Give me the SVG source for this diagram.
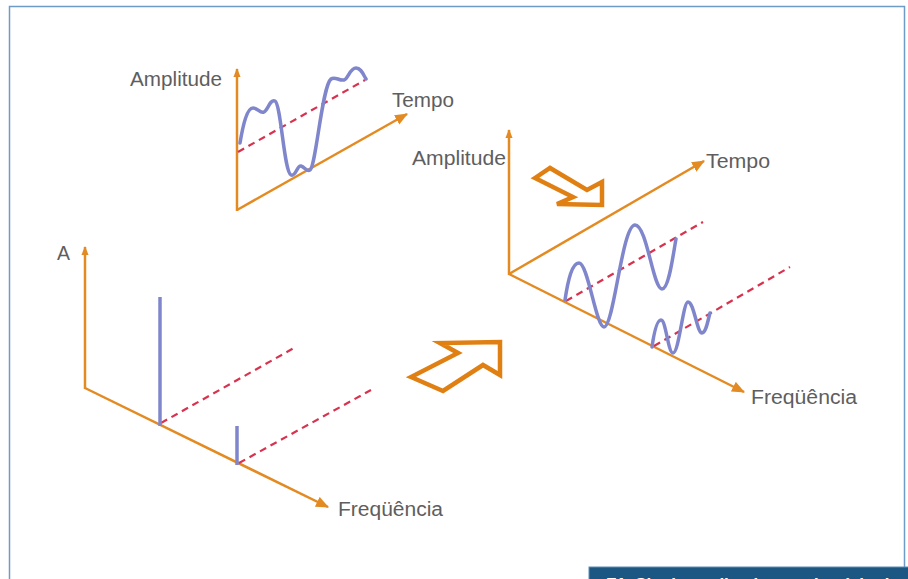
<svg xmlns="http://www.w3.org/2000/svg" width="908" height="579" viewBox="0 0 908 579">
<defs>
<style>
.ax{stroke:#E38B22;stroke-width:2.5;fill:none}
.wave{stroke:#7F86CC;stroke-width:3.5;fill:none;stroke-linecap:round;stroke-linejoin:round}
.spike{stroke:#7F86CC;stroke-width:3.5;fill:none}
.dash{stroke:#D8324E;stroke-width:2.2;fill:none;stroke-dasharray:7 5}
.hollow{stroke:#E07F12;stroke-width:4.5;fill:none;stroke-linejoin:miter}
.lbl{font-family:"Liberation Sans",Arial,sans-serif;font-size:20px;fill:#5E5E5E}
</style>
<marker id="big" viewBox="0 0 12 10" refX="11" refY="5" markerWidth="13" markerHeight="11" markerUnits="userSpaceOnUse" orient="auto">
<path d="M0,0 L12,5 L0,10 Z" fill="#E38B22"/>
</marker>
<marker id="small" viewBox="0 0 10 8" refX="9" refY="4" markerWidth="9" markerHeight="8" markerUnits="userSpaceOnUse" orient="auto">
<path d="M0,0 L10,4 L0,8 Z" fill="#E38B22"/>
</marker>
</defs>
<rect x="0" y="0" width="908" height="579" fill="#FFFFFF"/>
<path d="M9.5,585 L9.5,6.5 L904.5,6.5 L904.5,568" fill="none" stroke="#6F9CC6" stroke-width="1.5"/>

<g id="time-graph">
<line class="ax" x1="237" y1="211" x2="237" y2="69" marker-end="url(#small)"/>
<line class="ax" x1="237" y1="210" x2="407" y2="114" marker-end="url(#big)"/>
<line class="dash" x1="238" y1="152" x2="365" y2="80"/>
<path class="wave" d="M240,143 C243,125 247,108 253,108 C258,108 260,114 264,112 C268,110 270,99 275,101 C281,104 284,172 291,175 C296,177 297,165 301,166 C305,167 306,172 310,170 C316,166 322,86 331,79 C335,76 339,81 344,80 C348,79 350,68 356,68 C361,68 363,74 366,79"/>
<text class="lbl" x="130" y="86" textLength="92" lengthAdjust="spacingAndGlyphs">Amplitude</text>
<text class="lbl" x="392" y="107" textLength="62" lengthAdjust="spacingAndGlyphs">Tempo</text>
</g>

<g id="spectrum-graph">
<line class="ax" x1="85" y1="389" x2="85" y2="247" marker-end="url(#small)"/>
<line class="ax" x1="85" y1="388" x2="328" y2="507" marker-end="url(#big)"/>
<line class="dash" x1="161" y1="423" x2="294" y2="348"/>
<line class="dash" x1="239" y1="463" x2="371" y2="390"/>
<line class="spike" x1="160" y1="297" x2="160" y2="426"/>
<line class="spike" x1="237" y1="426" x2="237" y2="465"/>
<text class="lbl" x="57" y="260" textLength="13" lengthAdjust="spacingAndGlyphs">A</text>
<text class="lbl" x="338" y="516" textLength="105" lengthAdjust="spacingAndGlyphs">Freqüência</text>
</g>

<g id="combined-graph">
<line class="ax" x1="509" y1="275" x2="509" y2="130" marker-end="url(#small)"/>
<line class="ax" x1="509" y1="274" x2="704" y2="161" marker-end="url(#big)"/>
<line class="ax" x1="509" y1="274" x2="744" y2="392" marker-end="url(#big)"/>
<line class="dash" x1="566" y1="301" x2="703" y2="222"/>
<line class="dash" x1="654" y1="346" x2="790" y2="267"/>
<path class="wave" d="M565,300 C568,280 572,263 579,263 C588,263 596,327 604,327 C614,327 622,225 635,225 C647,225 653,289 662,289 C669,289 673,255 676,239"/>
<path class="wave" d="M652,347 C654,333 657,320 661,320 C666,320 668,353 673,353 C679,353 683,302 688,302 C694,302 697,333 702,333 C706,333 708,320 710,313"/>
<text class="lbl" x="412" y="165" textLength="94" lengthAdjust="spacingAndGlyphs">Amplitude</text>
<text class="lbl" x="706" y="168" textLength="64" lengthAdjust="spacingAndGlyphs">Tempo</text>
<text class="lbl" x="751" y="404" textLength="106" lengthAdjust="spacingAndGlyphs">Freqüência</text>
</g>

<g id="arrow-down">
<polygon class="hollow" points="535,178 550,168 587,190 602,182 602,205 557,204 573,197"/>
</g>
<g id="arrow-up">
<polygon class="hollow" points="411,377 443,391 483,365 500,375 500,342 440,343 458,353"/>
</g>

<g id="caption">
<rect x="589" y="567" width="325" height="20" fill="#1C5683" stroke="#5F8DB5" stroke-width="1"/>
<text x="606" y="590" font-family="'Liberation Sans',Arial,sans-serif" font-size="17" font-weight="bold" fill="#FFFFFF">F1. Sinais analisados no domínio do tempo</text>
</g>
</svg>
